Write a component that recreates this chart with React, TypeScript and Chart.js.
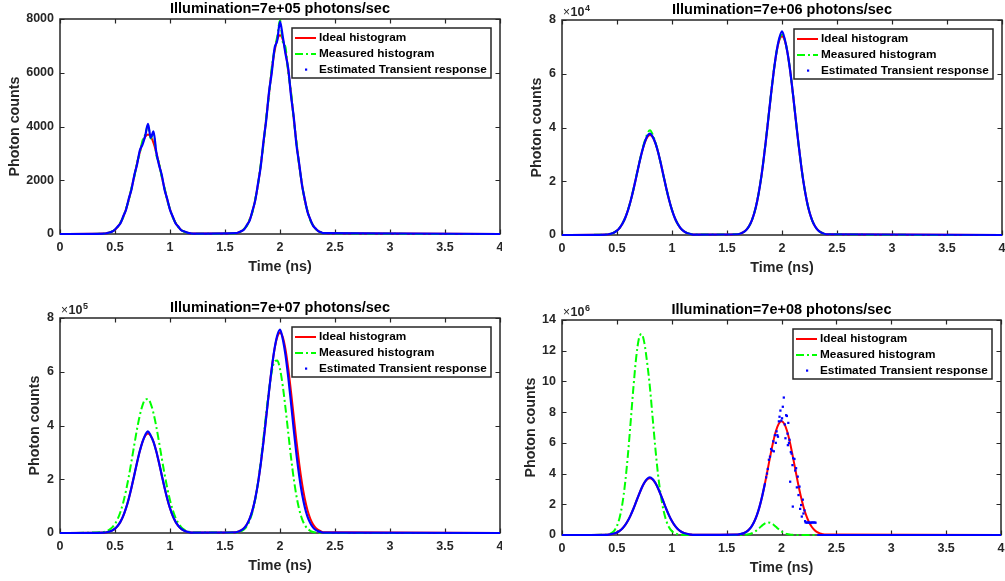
import React, { useEffect, useRef } from "react";
import { Chart, registerables } from "chart.js";

Chart.register(...registerables);

const FONT = '"Liberation Sans", Arial, Helvetica, sans-serif';

// Shared time axis (ns)
const TIMES = [0,
  0.4, 0.425, 0.45, 0.475, 0.5, 0.525, 0.55, 0.575, 0.6, 0.625, 0.65, 0.675, 0.7, 0.725, 0.75, 0.775, 0.8, 0.825, 0.85, 0.875, 0.9, 0.925, 0.95, 0.975, 1, 1.025, 1.05, 1.075, 1.1, 1.125, 1.15, 1.175, 1.2,
  1.6, 1.625, 1.65, 1.675, 1.7, 1.725, 1.75, 1.775, 1.8, 1.825, 1.85, 1.875, 1.9, 1.925, 1.95, 1.975, 2, 2.025, 2.05, 2.075, 2.1, 2.125, 2.15, 2.175, 2.2, 2.225, 2.25, 2.275, 2.3, 2.325, 2.35, 2.375, 2.4,
  4];

const X_TICKS = [0, 0.5, 1, 1.5, 2, 2.5, 3, 3.5, 4];

const TITLES = [
  "Illumination=7e+05 photons/sec",
  "Illumination=7e+06 photons/sec",
  "Illumination=7e+07 photons/sec",
  "Illumination=7e+08 photons/sec",
];

const LEGEND_LABELS = ["Ideal histogram", "Measured histogram", "Estimated Transient response"];

// ---- 7e+05 ----
const IDEAL_7E5 = [0,
  14, 28, 53, 94, 162, 268, 422, 638, 923, 1278, 1694, 2151, 2614, 3044, 3393, 3620, 3700, 3620, 3393, 3044, 2614, 2151, 1694, 1278, 923, 638, 422, 268, 162, 94, 53, 28, 14,
  29, 56, 105, 189, 325, 536, 844, 1276, 1846, 2555, 3388, 4302, 5229, 6087, 6785, 7241, 7400, 7241, 6785, 6087, 5229, 4302, 3388, 2555, 1846, 1276, 844, 536, 325, 189, 105, 56, 29,
  0];
const MEASURED_7E5 = [0,
  10, 25, 50, 100, 170, 260, 440, 620, 950, 1250, 1720, 2120, 2650, 3000, 3480, 3700, 4050, 3550, 3750, 2950, 2650, 2120, 1720, 1250, 930, 620, 420, 260, 160, 90, 50, 25, 10,
  20, 55, 100, 200, 310, 560, 820, 1310, 1820, 2600, 3330, 4350, 5150, 6200, 6850, 7350, 7950, 7150, 6950, 6000, 5300, 4250, 3420, 2520, 1880, 1240, 870, 510, 330, 180, 110, 50, 25,
  0];
const ESTIMATED_7E5 = [0,
  15, 30, 55, 90, 170, 280, 400, 660, 900, 1310, 1660, 2180, 2580, 3100, 3330, 3660, 4100, 3580, 3820, 3050, 2570, 2200, 1660, 1300, 900, 650, 400, 280, 150, 100, 60, 30, 15,
  30, 60, 110, 180, 340, 510, 870, 1250, 1880, 2520, 3450, 4250, 5280, 6000, 6900, 7200, 7900, 7350, 6700, 6150, 5150, 4350, 3300, 2600, 1820, 1300, 820, 550, 310, 200, 100, 60, 30,
  0];

// ---- 7e+06 ----
const IDEAL_7E6 = [0,
  144, 282, 528, 949, 1633, 2693, 4245, 6413, 9278, 12845, 17030, 21624, 26286, 30601, 34109, 36400, 37200, 36400, 34109, 30601, 26286, 21624, 17030, 12845, 9278, 6413, 4245, 2693, 1633, 949, 528, 282, 144,
  286, 560, 1051, 1887, 3249, 5358, 8443, 12758, 18456, 25552, 33877, 43016, 52288, 60872, 67851, 72409, 74000, 72409, 67851, 60872, 52288, 43016, 33877, 25552, 18456, 12758, 8443, 5358, 3249, 1887, 1051, 560, 286,
  0];
const MEASURED_7E6 = [0,
  145, 285, 530, 955, 1640, 2710, 4270, 6450, 9330, 12920, 17140, 21770, 26480, 30900, 34700, 37600, 39000, 37300, 34300, 30700, 26300, 21600, 17000, 12850, 9280, 6420, 4250, 2700, 1635, 950, 530, 285, 145,
  286, 560, 1055, 1890, 3255, 5370, 8460, 12790, 18500, 25620, 33970, 43150, 52460, 61100, 68100, 72800, 74500, 72600, 68000, 60900, 52300, 43000, 33900, 25550, 18450, 12760, 8440, 5360, 3250, 1890, 1050, 560, 286,
  0];
const ESTIMATED_7E6 = [0,
  144, 282, 528, 949, 1633, 2693, 4245, 6413, 9278, 12845, 17030, 21624, 26286, 30601, 34300, 36800, 37700, 36500, 34100, 30600, 26290, 21620, 17030, 12850, 9280, 6410, 4250, 2690, 1630, 950, 530, 280, 144,
  286, 560, 1051, 1887, 3249, 5358, 8443, 12758, 18456, 25552, 33877, 43016, 52288, 60872, 68100, 73200, 75800, 72800, 67800, 60870, 52290, 43020, 33880, 25550, 18460, 12760, 8440, 5360, 3250, 1890, 1050, 560, 286,
  0];

// ---- 7e+07 ----
const IDEAL_7E7 = [0,
  1432, 2801, 5254, 9435, 16243, 26788, 42217, 63788, 92278, 127761, 169386, 215081, 261442, 304362, 339253, 362045, 370000, 362045, 339253, 304362, 261442, 215081, 169386, 127761, 92278, 63788, 42217, 26788, 16243, 9435, 5254, 2801, 1432,
  2883, 5640, 10579, 18998, 32706, 53938, 85005, 128438, 185803, 257249, 341061, 433069, 526417, 612837, 683091, 728983, 745000, 728983, 683091, 612837, 526417, 433069, 341061, 257249, 185803, 128438, 85005, 53938, 32706, 18998, 10579, 5640, 2883,
  0];
const MEASURED_7E7 = [0,
  3900, 7050, 12350, 20900, 33900, 52850, 79200, 113900, 157500, 209250, 267000, 327500, 386000, 436500, 475000, 496500, 498500, 480800, 445500, 396800, 339500, 279000, 220400, 167250, 121900, 85400, 57500, 37150, 23100, 13800, 7900, 4350, 2300,
  1550, 3400, 7150, 14250, 26700, 47350, 79300, 125450, 187600, 265100, 354100, 447000, 532500, 600000, 638500, 642100, 610200, 547600, 464800, 372600, 282250, 202000, 136600, 87300, 52700, 30000, 16200, 8250, 4000, 1800, 800, 300, 100,
  0];
const ESTIMATED_7E7 = [0,
  1430, 2800, 5250, 9440, 16240, 26790, 42220, 63790, 92280, 127760, 169390, 215080, 261440, 304360, 339250, 365000, 378000, 362000, 339250, 304360, 261440, 215080, 169390, 127760, 92280, 63790, 42220, 26790, 16240, 9440, 5250, 2800, 1430,
  2880, 5640, 10580, 19000, 32710, 53940, 85000, 128440, 185800, 257250, 341060, 433070, 526420, 612840, 685000, 735000, 757000, 722000, 662000, 580000, 485000, 385000, 292000, 212000, 147000, 97000, 61000, 37000, 21000, 11500, 6000, 3000, 1400,
  0];

// ---- 7e+08 ----
const IDEAL_7E8 = [0,
  14319, 28009, 52540, 94350, 162430, 267880, 422170, 637880, 922780, 1277610, 1693860, 2150810, 2614420, 3043620, 3392530, 3620450, 3700000, 3620450, 3392530, 3043620, 2614420, 2150810, 1693860, 1277610, 922780, 637880, 422170, 267880, 162430, 94350, 52540, 28009, 14319,
  28638, 56018, 105080, 188700, 324860, 535760, 844340, 1275760, 1845560, 2555220, 3387720, 4301620, 5228840, 6087240, 6785060, 7240900, 7400000, 7240900, 6785060, 6087240, 5228840, 4301620, 3387720, 2555220, 1845560, 1275760, 844340, 535760, 324860, 188700, 105080, 56018, 28638,
  0];
const MEASURED_7E8 = [0,
  17700, 47500, 118300, 271500, 575400, 1125000, 2026000, 3371000, 5170000, 7315000, 9547000, 11495000, 12766000, 13084000, 12524000, 11266000, 9700000, 7700000, 5700000, 3942000, 2592000, 1602000, 930000, 507000, 259000, 125000, 56000, 24000, 9600, 3500, 1200, 400, 100,
  770, 2540, 7460, 19600, 46000, 96900, 182500, 307700, 464000, 626500, 757000, 818000, 791000, 685000, 530500, 367600, 228000, 126500, 62800, 27900, 11100, 4000, 1300, 400, 100, 0, 0, 0, 0, 0, 0, 0, 0,
  0];
const ESTIMATED_7E8 = [0,
  14320, 28010, 52540, 94350, 162430, 267880, 422170, 637880, 922780, 1277610, 1693860, 2150810, 2614420, 3043620, 3400000, 3650000, 3750000, 3650000, 3400000, 3043620, 2614420, 2150810, 1693860, 1277610, 922780, 637880, 422170, 267880, 162430, 94350, 52540, 28010, 14320,
  28638, 56018, 105080, 188700, 324860, 535760, 844340, 1275760, 1845560, 2555220, 3387720, null, null, null, null, null, null, null, null, null, null, null, null, null, null, null, null, null, null, 0, 0, 0, 0,
  0];
const ESTIMATED_7E8_SCATTER_T = [1.86, 1.868, 1.875, 1.885, 1.895, 1.905, 1.915, 1.925, 1.93, 1.94, 1.948, 1.955, 1.962, 1.968, 1.976, 1.982, 1.99, 1.998, 2.005, 2.012, 2.021, 2.03, 2.036, 2.042, 2.049, 2.055, 2.058, 2.062, 2.068, 2.073, 2.079, 2.085, 2.092, 2.1, 2.103, 2.106, 2.118, 2.125, 2.133, 2.14, 2.148, 2.155, 2.164, 2.17, 2.179, 2.185, 2.194, 2.2, 2.209, 2.215, 2.22, 2.23, 2.24, 2.25, 2.26, 2.27, 2.28, 2.29, 2.3, 2.31];
const ESTIMATED_7E8_SCATTER_V = [3750000, 4000000, 4300000, 4900000, 5100000, 5600000, 5500000, 6100000, 5450000, 6500000, 6000000, 6750000, 6500000, 6400000, 7400000, 7700000, 8100000, 7450000, 7600000, 8350000, 8950000, 7200000, 6300000, 7800000, 7750000, 6600000, 5850000, 7300000, 6000000, 6200000, 3470000, 5400000, 5300000, 4550000, 1850000, 5000000, 4950000, 4200000, 4350000, 3100000, 3800000, 2600000, 3150000, 1700000, 1950000, 1200000, 2300000, 1400000, 1600000, 900000, 820000, 800000, 820000, 800000, 810000, 800000, 820000, 810000, 820000, 800000];

const Y_MAX = [8000, 80000, 800000, 14000000];
const Y_STEP = [2000, 20000, 200000, 2000000];
const Y_EXP = [0, 4, 5, 6];

const SERIES = [
  { ideal: IDEAL_7E5, measured: MEASURED_7E5, estimated: ESTIMATED_7E5, scatterT: [] as number[], scatterV: [] as number[] },
  { ideal: IDEAL_7E6, measured: MEASURED_7E6, estimated: ESTIMATED_7E6, scatterT: [] as number[], scatterV: [] as number[] },
  { ideal: IDEAL_7E7, measured: MEASURED_7E7, estimated: ESTIMATED_7E7, scatterT: [] as number[], scatterV: [] as number[] },
  { ideal: IDEAL_7E8, measured: MEASURED_7E8, estimated: ESTIMATED_7E8, scatterT: ESTIMATED_7E8_SCATTER_T, scatterV: ESTIMATED_7E8_SCATTER_V },
];

// Layout (pixels) — canvas rectangles and plot box inside each canvas
const LAYOUT = [
  { left: 0, top: 0, w: 502, h: 290, plotTop: 19, plotBottom: 234 },
  { left: 502, top: 0, w: 503, h: 290, plotTop: 20, plotBottom: 235 },
  { left: 0, top: 290, w: 502, h: 291, plotTop: 28, plotBottom: 243 },
  { left: 502, top: 290, w: 503, h: 291, plotTop: 30, plotBottom: 245 },
];
const PLOT_LEFT = 60;
const PLOT_RIGHT = 500;

const RED = "#ff0000";
const GREEN = "#00ff00";
const BLUE = "#0000ff";
const AXIS = "#262626";
const GREEN_DASH = [8, 3, 2, 3];
const TICK_FONT = { family: FONT, size: 12.5, weight: "bold" as const };

function makeDecor(idx: number) {
  const title = TITLES[idx];
  const exp = Y_EXP[idx];
  return {
    id: "matlabDecor" + idx,
    beforeDatasetsDraw(chart: any) {
      const { ctx, chartArea: a } = chart;
      ctx.save();
      ctx.strokeStyle = AXIS;
      ctx.lineWidth = 1.5;
      ctx.strokeRect(a.left, a.top, a.right - a.left, a.bottom - a.top);
      ctx.lineWidth = 1.2;
      const xs = chart.scales.x;
      const ys = chart.scales.y;
      const tl = 4.5;
      ctx.beginPath();
      xs.ticks.forEach((t: any) => {
        const px = Math.round(xs.getPixelForValue(t.value)) + 0.5;
        ctx.moveTo(px, a.bottom);
        ctx.lineTo(px, a.bottom - tl);
        ctx.moveTo(px, a.top);
        ctx.lineTo(px, a.top + tl);
      });
      ys.ticks.forEach((t: any) => {
        const py = Math.round(ys.getPixelForValue(t.value)) + 0.5;
        ctx.moveTo(a.left, py);
        ctx.lineTo(a.left + tl, py);
        ctx.moveTo(a.right, py);
        ctx.lineTo(a.right - tl, py);
      });
      ctx.stroke();
      ctx.restore();
    },
    afterDraw(chart: any) {
      const { ctx, chartArea: a } = chart;
      const ys = chart.scales.y;
      const midX = (a.left + a.right) / 2;
      ctx.save();
      // Title
      ctx.fillStyle = "#000";
      ctx.font = `bold 14.5px ${FONT}`;
      ctx.textAlign = "center";
      ctx.textBaseline = "alphabetic";
      ctx.fillText(title, midX, a.top - 6);
      // X label
      ctx.font = `bold 14.3px ${FONT}`;
      ctx.fillStyle = AXIS;
      ctx.fillText("Time (ns)", midX, a.bottom + 36.5);
      // Y label
      ctx.font = `bold 12.5px ${FONT}`;
      let widest = 0;
      ys.ticks.forEach((t: any) => {
        widest = Math.max(widest, ctx.measureText(String(t.label)).width);
      });
      ctx.save();
      ctx.font = `bold 14.3px ${FONT}`;
      ctx.translate(a.left - (6 + widest + 11.5), (a.top + a.bottom) / 2);
      ctx.rotate(-Math.PI / 2);
      ctx.textAlign = "center";
      ctx.textBaseline = "middle";
      ctx.fillText("Photon counts", 0, 0);
      ctx.restore();
      // Exponent
      if (exp) {
        ctx.textAlign = "left";
        ctx.textBaseline = "alphabetic";
        ctx.font = `12px ${FONT}`;
        ctx.fillText("\u00d7", a.left + 1, a.top - 4);
        const wx = ctx.measureText("\u00d7").width;
        ctx.font = `bold 12.5px ${FONT}`;
        ctx.fillText("10", a.left + 1 + wx + 0.5, a.top - 4);
        const w10 = ctx.measureText("10").width;
        ctx.font = `bold 9px ${FONT}`;
        ctx.fillText(String(exp), a.left + 1 + wx + 0.5 + w10 + 0.5, a.top - 9.5);
      }
      // Legend
      const bw = 199;
      const bh = 50;
      const bx = a.right - 9 - bw;
      const by = a.top + 9;
      ctx.fillStyle = "#fff";
      ctx.fillRect(bx, by, bw, bh);
      ctx.strokeStyle = AXIS;
      ctx.lineWidth = 1.5;
      ctx.strokeRect(bx, by, bw, bh);
      const rows = [by + 10, by + 26, by + 41.5];
      ctx.lineWidth = 2;
      ctx.strokeStyle = RED;
      ctx.beginPath();
      ctx.moveTo(bx + 3, rows[0]);
      ctx.lineTo(bx + 24, rows[0]);
      ctx.stroke();
      ctx.strokeStyle = GREEN;
      ctx.setLineDash(GREEN_DASH);
      ctx.beginPath();
      ctx.moveTo(bx + 3, rows[1]);
      ctx.lineTo(bx + 24, rows[1]);
      ctx.stroke();
      ctx.setLineDash([]);
      ctx.fillStyle = BLUE;
      ctx.fillRect(bx + 13, rows[2] - 1, 2.2, 2.2);
      ctx.fillStyle = "#000";
      ctx.font = `bold 11.8px ${FONT}`;
      ctx.textAlign = "left";
      ctx.textBaseline = "middle";
      LEGEND_LABELS.forEach((lab, i) => ctx.fillText(lab, bx + 27, rows[i]));
      ctx.restore();
    },
  };
}

function Panel({ idx }: { idx: number }) {
  const ref = useRef<HTMLCanvasElement | null>(null);
  const L = LAYOUT[idx];
  useEffect(() => {
    if (!ref.current) return;
    const s = SERIES[idx];
    const toXY = (arr: (number | null)[]) => TIMES.map((t, i) => ({ x: t, y: arr[i] }));
    const datasets: any[] = [
      {
        label: LEGEND_LABELS[0],
        data: toXY(s.ideal),
        borderColor: RED,
        borderWidth: 2,
        pointRadius: 0,
        cubicInterpolationMode: "monotone",
        order: 3,
        clip: false,
      },
      {
        label: LEGEND_LABELS[1],
        data: toXY(s.measured),
        borderColor: GREEN,
        borderWidth: 2,
        borderDash: GREEN_DASH,
        pointRadius: 0,
        cubicInterpolationMode: "monotone",
        order: 2,
        clip: false,
      },
      {
        label: LEGEND_LABELS[2],
        data: toXY(s.estimated),
        borderColor: BLUE,
        borderWidth: 2.2,
        pointRadius: 0,
        cubicInterpolationMode: "monotone",
        spanGaps: false,
        order: 1,
        clip: false,
      },
    ];
    if (s.scatterT.length) {
      datasets.push({
        label: LEGEND_LABELS[2],
        data: s.scatterT.map((t, i) => ({ x: t, y: s.scatterV[i] })),
        showLine: false,
        pointRadius: 1.6,
        pointBorderWidth: 0,
        pointBackgroundColor: BLUE,
        pointStyle: "rect",
        order: 0,
        clip: false,
      });
    }
    const exp = Y_EXP[idx];
    const chart = new Chart(ref.current, {
      type: "line",
      data: { datasets },
      plugins: [makeDecor(idx)],
      options: {
        responsive: false,
        animation: false,
        devicePixelRatio: 1,
        events: [],
        layout: { padding: { left: 0, top: L.plotTop, right: L.w - PLOT_RIGHT, bottom: 0 } },
        plugins: { legend: { display: false }, tooltip: { enabled: false }, title: { display: false } },
        scales: {
          x: {
            type: "linear",
            min: 0,
            max: 4,
            afterBuildTicks: (sc: any) => {
              sc.ticks = X_TICKS.map((v) => ({ value: v }));
            },
            ticks: {
              stepSize: 0.5,
              autoSkip: false,
              maxRotation: 0,
              padding: 6,
              color: AXIS,
              font: TICK_FONT,
              callback: (v: any) => String(v),
            },
            grid: { display: false, drawTicks: false },
            border: { display: false },
            afterFit: (sc: any) => {
              sc.height = L.h - L.plotBottom;
              sc.paddingLeft = 0;
              sc.paddingRight = 0;
            },
          },
          y: {
            type: "linear",
            min: 0,
            max: Y_MAX[idx],
            ticks: {
              stepSize: Y_STEP[idx],
              padding: 6,
              color: AXIS,
              font: TICK_FONT,
              callback: (v: any) => String(+(Number(v) / Math.pow(10, exp)).toFixed(6)),
            },
            grid: { display: false, drawTicks: false },
            border: { display: false },
            afterFit: (sc: any) => {
              sc.width = PLOT_LEFT;
              sc.paddingTop = 0;
              sc.paddingBottom = 0;
            },
          },
        },
      } as any,
    });
    return () => chart.destroy();
  }, [idx]);
  return (
    <canvas
      ref={ref}
      width={L.w}
      height={L.h}
      style={{ position: "absolute", left: L.left, top: L.top, width: L.w, height: L.h }}
    />
  );
}

export default function App() {
  return (
    <div style={{ position: "fixed", left: 0, top: 0, width: 1005, height: 581, background: "#fff", overflow: "hidden" }}>
      {[0, 1, 2, 3].map((i) => (
        <Panel key={i} idx={i} />
      ))}
    </div>
  );
}
